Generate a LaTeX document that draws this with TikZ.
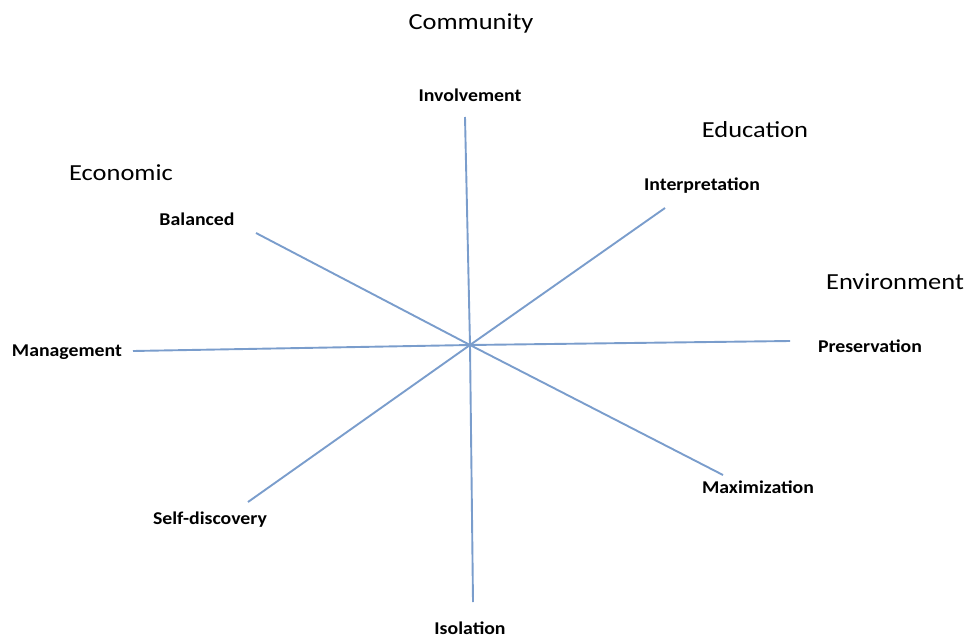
\documentclass[tikz,border=0pt]{standalone}
\usepackage{fontspec}
\setmainfont{Carlito}
\begin{document}
\begin{tikzpicture}[x=1pt,y=-1pt,
  axis/.style={draw={rgb,255:red,122;green,157;blue,204}, line width=1.9pt},
  pole/.style={font=\bfseries\fontsize{18}{20}\selectfont, inner sep=0pt, xscale=1.1},
  theme/.style={font=\fontsize{23}{26}\selectfont, inner sep=0pt, xscale=1.15}]
\useasboundingbox (0,0) rectangle (969,637);

% axis ends
\coordinate (c) at (470,345);
\coordinate (vt) at (465,117);
\coordinate (vb) at (473,602);
\coordinate (hl) at (133,351);
\coordinate (hr) at (790,341);
\coordinate (bl) at (256,233);
\coordinate (mx) at (723,475);
\coordinate (ip) at (665,208);
\coordinate (sd) at (248,502);

\draw[axis] (vt) -- (c) -- (vb);
\draw[axis] (hl) -- (c) -- (hr);
\draw[axis] (bl) -- (c) -- (mx);
\draw[axis] (ip) -- (c) -- (sd);

% theme headings
\node[theme] (community) at (471,23) {Community};
\node[theme] (education) at (755,130) {Education};
\node[theme] (economic) at (121,173) {Economic};
\node[theme] (environment) at (895,282) {Environment};

% pole labels
\node[pole] (involvement) at (470,95) {Involvement};
\node[pole] (interpretation) at (702,186) {Interpretation};
\node[pole] (balanced) at (197,219) {Balanced};
\node[pole] (management) at (67,352) {Management};
\node[pole] (preservation) at (870,346) {Preservation};
\node[pole] (maximization) at (758,487) {Maximization};
\node[pole] (selfdiscovery) at (210,520) {Self-discovery};
\node[pole] (isolation) at (470,628) {Isolation};
\end{tikzpicture}
\end{document}
